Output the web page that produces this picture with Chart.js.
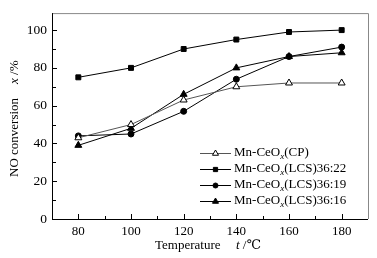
<!DOCTYPE html>
<html>
<head>
<meta charset="utf-8">
<script src="https://cdn.jsdelivr.net/npm/chart.js@4/dist/chart.umd.min.js"></script>
<style>
  html, body { margin: 0; padding: 0; background: #fff; }
  #wrap { width: 377px; height: 258px; }
</style>
</head>
<body>
<div id="wrap"><canvas id="convChart"></canvas></div>
<script>
const temperatures = [80, 100, 120, 140, 160, 180];
const cpValues = [43, 50, 63, 70, 72, 72];
const lcs22Values = [75, 80, 90, 95, 99, 100];
const lcs19Values = [44, 45, 57, 74, 86, 91];
const lcs16Values = [39, 48, 66, 80, 86, 88];
const seriesNames = ['(CP)', '(LCS)36:22', '(LCS)36:19', '(LCS)36:16'];
const yTickValues = [0, 20, 40, 60, 80, 100];
const xTickValues = [80, 100, 120, 140, 160, 180];

const serif = '"Liberation Serif", "DejaVu Serif", serif';

const toPoints = vals => vals.map((v, i) => ({ x: temperatures[i], y: v }));

// ticks drawn inside the frame, plus axis titles and legend
const decorPlugin = {
  id: 'decor',
  afterDraw(chart) {
    const ctx = chart.ctx;
    const area = chart.chartArea;
    const xs = chart.scales.x;
    const ys = chart.scales.y;
    ctx.save();

    // frame
    ctx.lineWidth = 1;
    ctx.strokeStyle = '#888';
    ctx.beginPath();
    ctx.moveTo(area.left, area.top + 0.5);
    ctx.lineTo(area.right + 0.5, area.top + 0.5);
    ctx.lineTo(area.right + 0.5, area.bottom);
    ctx.stroke();
    ctx.strokeStyle = '#000';
    ctx.beginPath();
    ctx.moveTo(area.left + 0.5, area.top);
    ctx.lineTo(area.left + 0.5, area.bottom + 0.5);
    ctx.lineTo(area.right, area.bottom + 0.5);
    ctx.stroke();

    // ticks
    ctx.beginPath();
    for (let v = 0; v <= 100; v += 10) {
      const y = Math.round(ys.getPixelForValue(v)) + 0.5;
      const len = v % 20 === 0 ? 5 : 4;
      ctx.moveTo(area.left, y);
      ctx.lineTo(area.left + len, y);
    }
    for (let v = 80; v <= 180; v += 10) {
      const x = Math.round(xs.getPixelForValue(v)) + 0.5;
      const len = v % 20 === 0 ? 5 : 3;
      ctx.moveTo(x, area.bottom);
      ctx.lineTo(x, area.bottom - len);
    }
    ctx.stroke();

    ctx.fillStyle = '#000';
    ctx.textBaseline = 'middle';

    // y title
    ctx.save();
    ctx.translate(15, 177);
    ctx.rotate(-Math.PI / 2);
    ctx.textAlign = 'left';
    ctx.font = '13px ' + serif;
    ctx.fillText('NO conversion', 0, 0);
    let px = ctx.measureText('NO conversion').width + 14;
    ctx.font = 'italic 13px ' + serif;
    ctx.fillText('x', px, 0);
    px += ctx.measureText('x ').width;
    ctx.font = '13px ' + serif;
    ctx.fillText('/%', px, 0);
    ctx.restore();

    // x title
    ctx.textAlign = 'left';
    ctx.font = '13px ' + serif;
    ctx.fillText('Temperature', 155, 246);
    ctx.font = 'italic 13px ' + serif;
    ctx.fillText('t', 236, 246);
    ctx.font = '13px ' + serif;
    ctx.fillText(' /\u2103', 236 + ctx.measureText('t').width, 246);

    // legend
    const rows = [153, 169, 185, 201];
    chart.data.datasets.forEach((ds, i) => {
      const y = rows[i];
      ctx.strokeStyle = ds.borderColor;
      ctx.lineWidth = 1;
      ctx.beginPath();
      ctx.moveTo(200, y + 0.5);
      ctx.lineTo(231, y + 0.5);
      ctx.stroke();
      ctx.fillStyle = ds.pointBackgroundColor;
      ctx.strokeStyle = '#000';
      Chart.helpers.drawPoint(ctx, {
        pointStyle: ds.pointStyle,
        radius: ds.pointRadius - 0.5,
        borderWidth: 1
      }, 215.5, y + 0.5);
      ctx.fillStyle = '#000';
      ctx.font = '13px ' + serif;
      ctx.fillText('Mn-CeO', 234, y);
      let tx = 234 + ctx.measureText('Mn-CeO').width;
      ctx.font = 'italic 9px ' + serif;
      ctx.fillText('x', tx, y + 4);
      tx += ctx.measureText('x').width;
      ctx.font = '13px ' + serif;
      ctx.fillText(seriesNames[i], tx, y);
    });

    ctx.restore();
  }
};

const commonDs = {
  borderWidth: 1,
  pointBorderColor: '#000',
  pointBorderWidth: 1,
  fill: false,
  tension: 0
};

new Chart(document.getElementById('convChart'), {
  type: 'line',
  data: {
    datasets: [
      { ...commonDs, label: seriesNames[0], data: toPoints(cpValues), borderColor: '#555',
        pointStyle: 'triangle', pointRadius: 4, pointBackgroundColor: '#fff' },
      { ...commonDs, label: seriesNames[1], data: toPoints(lcs22Values), borderColor: '#000',
        pointStyle: 'rect', pointRadius: 3.5, pointBackgroundColor: '#000' },
      { ...commonDs, label: seriesNames[2], data: toPoints(lcs19Values), borderColor: '#000',
        pointStyle: 'circle', pointRadius: 3, pointBackgroundColor: '#000' },
      { ...commonDs, label: seriesNames[3], data: toPoints(lcs16Values), borderColor: '#000',
        pointStyle: 'triangle', pointRadius: 4, pointBackgroundColor: '#000' }
    ]
  },
  options: {
    responsive: true,
    maintainAspectRatio: false,
    animation: false,
    layout: { padding: { left: 0, top: 12, right: 9, bottom: 0 } },
    plugins: {
      legend: { display: false },
      tooltip: { enabled: false }
    },
    scales: {
      x: {
        type: 'linear',
        min: 70,
        max: 190,
        afterBuildTicks(scale) {
          scale.ticks = xTickValues.map(v => ({ value: v }));
        },
        afterFit(scale) { scale.height = 39; },
        grid: { display: false, drawTicks: false },
        border: { display: false },
        ticks: {
          color: '#000',
          padding: 5,
          maxRotation: 0,
          font: { family: serif, size: 13 }
        }
      },
      y: {
        type: 'linear',
        min: 0,
        max: 109,
        afterBuildTicks(scale) {
          scale.ticks = yTickValues.map(v => ({ value: v }));
        },
        afterFit(scale) { scale.width = 52; },
        grid: { display: false, drawTicks: false },
        border: { display: false },
        ticks: {
          color: '#000',
          padding: 5,
          font: { family: serif, size: 13.5 }
        }
      }
    }
  },
  plugins: [decorPlugin]
});
</script>
</body>
</html>
